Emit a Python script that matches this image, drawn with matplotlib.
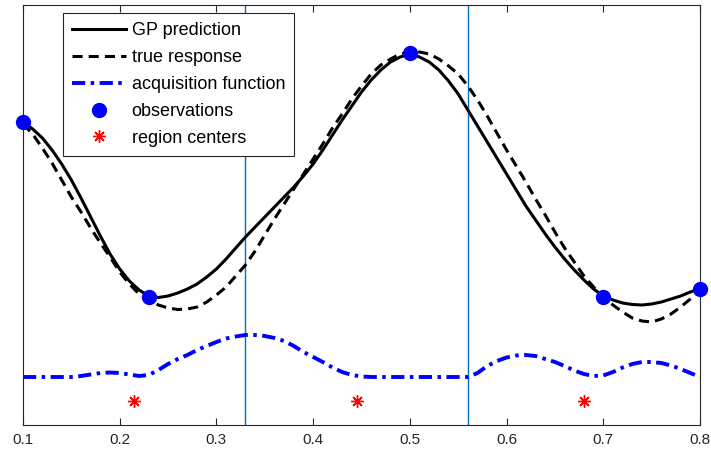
import matplotlib
matplotlib.use("Agg")
import matplotlib.pyplot as plt
import numpy as np

plt.rcParams['font.family'] = ['Liberation Sans', 'DejaVu Sans']

# sample positions shared by the three curves (0.10, 0.11, ..., 0.80)
x = np.linspace(0.1, 0.8, 71)

# GP prediction (solid)
gp_y = [3.03, 2.96, 2.87, 2.75, 2.61, 2.45, 2.27, 2.08, 1.89, 1.71,
        1.56, 1.44, 1.35, 1.29, 1.275, 1.29, 1.32, 1.36, 1.41, 1.48,
        1.56, 1.66, 1.77, 1.88, 1.98, 2.08, 2.18, 2.28, 2.38, 2.49,
        2.61, 2.75, 2.90, 3.05, 3.19, 3.33, 3.45, 3.55, 3.63, 3.68,
        3.71, 3.68, 3.63, 3.55, 3.44, 3.31, 3.15, 2.99, 2.83, 2.67,
        2.51, 2.35, 2.19, 2.05, 1.91, 1.78, 1.66, 1.55, 1.45, 1.36,
        1.29, 1.25, 1.22, 1.205, 1.20, 1.21, 1.23, 1.26, 1.29, 1.33,
        1.36]

# true response (dashed)
true_y = [3.01, 2.91, 2.77, 2.62, 2.45, 2.28, 2.13, 1.97, 1.82, 1.68,
          1.53, 1.41, 1.31, 1.25, 1.20, 1.17, 1.155, 1.16, 1.18, 1.23,
          1.30, 1.38, 1.49, 1.60, 1.74, 1.90, 2.06, 2.21, 2.36, 2.51,
          2.66, 2.81, 2.97, 3.11, 3.26, 3.39, 3.51, 3.60, 3.66, 3.71,
          3.73, 3.73, 3.71, 3.66, 3.59, 3.51, 3.39, 3.25, 3.09, 2.92,
          2.75, 2.59, 2.43, 2.26, 2.10, 1.93, 1.77, 1.63, 1.49, 1.38,
          1.28, 1.20, 1.13, 1.07, 1.04, 1.03, 1.06, 1.11, 1.18, 1.26,
          1.34]

# acquisition function (dash-dot)
acq_y = [0.48, 0.48, 0.48, 0.48, 0.48, 0.48, 0.49, 0.505, 0.52, 0.525,
         0.52, 0.505, 0.49, 0.50, 0.55, 0.61, 0.66, 0.70, 0.75, 0.79,
         0.83, 0.865, 0.885, 0.90, 0.90, 0.89, 0.87, 0.84, 0.79, 0.73,
         0.68, 0.63, 0.575, 0.53, 0.50, 0.485, 0.48, 0.48, 0.48, 0.48,
         0.48, 0.48, 0.48, 0.48, 0.48, 0.48, 0.48, 0.52, 0.59, 0.64,
         0.675, 0.695, 0.70, 0.69, 0.66, 0.63, 0.59, 0.545, 0.51, 0.49,
         0.495, 0.53, 0.575, 0.61, 0.63, 0.63, 0.62, 0.595, 0.56, 0.52,
         0.48]

obs_x = [0.1, 0.23, 0.5, 0.7, 0.8]
obs_y = [3.03, 1.28, 3.72, 1.28, 1.36]

centers_x = [0.215, 0.445, 0.68]
centers_y = [0.24, 0.24, 0.24]

bounds = [0.33, 0.56]

fig = plt.figure(figsize=(7.11, 4.54), dpi=100)
ax = fig.add_axes([23 / 711, 29 / 454, 677 / 711, 420 / 454])

for b in bounds:
    ax.axvline(b, color='#0072BD', lw=1.0, zorder=1)

ax.plot(x, gp_y, 'k-', lw=2.2, label='GP prediction', zorder=3)
ax.plot(x, true_y, color='k', lw=2.2, dashes=(3.3, 2.0), label='true response', zorder=3)
ax.plot(x, acq_y, color='#0000FF', lw=2.8, dashes=(3.4, 1.4, 0.9, 1.4),
        label='acquisition function', zorder=3)
ax.plot(obs_x, obs_y, 'o', color='#0000FF', ms=10, ls='none', label='observations',
        zorder=4, clip_on=False)
ax.plot(centers_x, centers_y, ls='none', marker=(8, 2, 0), color='#FF0000', ms=9, mew=1.0,
        label='region centers', zorder=4)

ax.set_xlim(0.1, 0.8)
ax.set_ylim(0, 4.2)
ax.set_xticks([0.1, 0.2, 0.3, 0.4, 0.5, 0.6, 0.7, 0.8])
ax.set_xticklabels(['0.1', '0.2', '0.3', '0.4', '0.5', '0.6', '0.7', '0.8'])
ax.set_yticks([])
ax.tick_params(axis='x', direction='in', top=True, length=5, width=0.8,
               labelsize=11, colors='#262626', pad=6)
for s in ax.spines.values():
    s.set_color('#262626')
    s.set_linewidth(0.8)

leg = ax.legend(loc='upper left', bbox_to_anchor=(40 / 677, 412 / 420), borderaxespad=0,
                fontsize=13, fancybox=False, framealpha=1, edgecolor='#262626',
                handlelength=3.0, handletextpad=0.3, labelspacing=0.55,
                borderpad=0.5)
leg.get_frame().set_linewidth(0.8)

fig.savefig('out.png', dpi=100)
